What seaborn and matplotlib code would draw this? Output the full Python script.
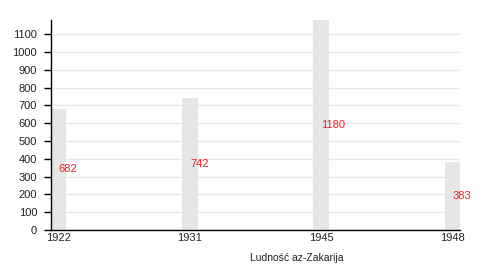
import matplotlib
matplotlib.use("Agg")
import matplotlib.pyplot as plt
import seaborn as sns
import pandas as pd

years = ["1922", "1931", "1945", "1948"]
population = [682, 742, 1180, 383]
y_ticks = list(range(0, 1200, 100))
x_label = "Ludność az-Zakarija"

sns.set_theme(style="white")
plt.rcParams["font.family"] = ["Liberation Sans", "DejaVu Sans"]

df = pd.DataFrame({"year": years, "pop": population})

fig = plt.figure(figsize=(5, 2.7), dpi=100)
ax = fig.add_axes([0.102, 0.148, 0.818, 0.778])

bw = 0.118
sns.barplot(data=df, x="year", y="pop", ax=ax, color="#e6e6e6",
            saturation=1, width=bw, edgecolor="none", linewidth=0)

ax.set_xlim(-bw / 2, len(years) - 1 + bw / 2)
ax.set_ylim(0, max(population))
ax.set_yticks(y_ticks)
ax.set_axisbelow(True)
ax.yaxis.grid(True, color="#e8e8e8", linewidth=1)
ax.xaxis.grid(False)

for s in ["top", "right"]:
    ax.spines[s].set_visible(False)
for s in ["left", "bottom"]:
    ax.spines[s].set_color("black")
    ax.spines[s].set_linewidth(1)

ax.tick_params(axis="y", length=5, width=1, color="black", pad=5,
               labelsize=8, left=True, labelcolor="#222222")
ax.tick_params(axis="x", length=0, pad=2, labelsize=8, labelcolor="#222222")

for i, v in enumerate(population):
    ax.text(i, v / 2, str(v), color="#ee1c24", fontsize=8,
            ha="left", va="center")

ax.set_ylabel("")
ax.set_xlabel(x_label, fontsize=7.5, color="#222222", ha="left")
ax.xaxis.set_label_coords((250 - 51) / 409, -0.11)

fig.savefig("out.png", dpi=100)
